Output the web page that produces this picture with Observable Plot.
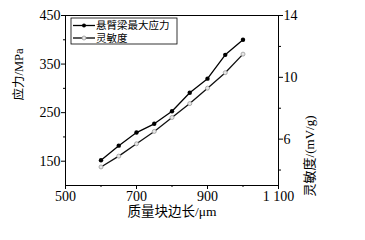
<!DOCTYPE html>
<html>
<head>
<meta charset="utf-8">
<script src="https://cdn.jsdelivr.net/npm/d3@7"></script>
<script src="https://cdn.jsdelivr.net/npm/@observablehq/plot@0.6"></script>
<style>
  html, body { margin: 0; padding: 0; background: #fff; }
  #chart svg, #chart svg text { font-family: "Liberation Serif", "Times New Roman", "Noto Sans CJK SC", serif !important; }
</style>
</head>
<body>
<div id="chart"></div>
<script>
// ---- data ----
const sizes = [600, 650, 700, 750, 800, 850, 900, 950, 1000];          // 质量块边长 / μm
const stress = [152, 182, 209, 227, 253, 291, 320, 369, 400];           // 悬臂梁最大应力 / MPa
const sensitivity = [4.2, 4.9, 5.7, 6.5, 7.4, 8.3, 9.3, 10.3, 11.5];   // 灵敏度 / (mV/g)
const xTicks = [500, 700, 900, 1100];
const xMinor = [600, 800, 1000];
const yLeftTicks = [150, 250, 350, 450];
const yLeftMinor = [200, 300, 400];
const yRightTicks = [6, 10, 14];
const yRightMinor = [4, 8, 12];
const seriesNames = ["悬臂梁最大应力", "灵敏度"];
const xLabel = "质量块边长/μm";
const yLeftLabel = "应力/MPa";
const yRightLabel = "灵敏度/(mV/g)";

const font = "Liberation Serif, Times New Roman, Noto Sans CJK SC, serif";

// map right-axis values into the left-axis domain
const toLeft = d3.scaleLinear([3, 14], [100, 450]);

const stressData = sizes.map((x, i) => ({x, y: stress[i]}));
const sensData = sizes.map((x, i) => ({x, y: toLeft(sensitivity[i])}));

const fmtX = d => d === 1100 ? "1 100" : String(d);

const chart = Plot.plot({
  width: 365,
  height: 240,
  marginLeft: 65,
  marginRight: 87,
  marginTop: 15,
  marginBottom: 55,
  style: {fontSize: "14px", color: "#000", background: "#fff"},
  x: {domain: [500, 1100]},
  y: {domain: [100, 450]},
  marks: [
    Plot.frame({stroke: "#000", strokeWidth: 1}),
    Plot.axisX({ticks: xTicks, tickSize: 4, tickPadding: 2, tickFormat: fmtX, label: null, stroke: "#000", fontSize: 14}),
    Plot.axisX({ticks: xMinor, tickSize: 2, text: null, label: null, stroke: "#000"}),
    Plot.axisY({ticks: yLeftTicks, tickSize: 4, tickPadding: 1, label: null, stroke: "#000", fontSize: 14}),
    Plot.axisY({ticks: yLeftMinor, tickSize: 2, text: null, label: null, stroke: "#000"}),
    Plot.axisY({anchor: "right", ticks: yRightTicks.map(toLeft), tickSize: 4, tickPadding: 1,
      tickFormat: d => String(Math.round(toLeft.invert(d))), label: null, stroke: "#000", fontSize: 14}),
    Plot.axisY({anchor: "right", ticks: yRightMinor.map(toLeft), tickSize: 2, text: null, label: null, stroke: "#000"}),
    Plot.line(sensData, {x: "x", y: "y", stroke: "#111", strokeWidth: 1.3}),
    Plot.dot(sensData, {x: "x", y: "y", r: 2, fill: "#e6e6e6", stroke: "#999", strokeWidth: 0.8}),
    Plot.line(stressData, {x: "x", y: "y", stroke: "#000", strokeWidth: 1.3}),
    Plot.dot(stressData, {x: "x", y: "y", r: 2.2, fill: "#000", stroke: "none"}),
    Plot.text([xLabel], {text: d => d, frameAnchor: "bottom", dy: 30, fontSize: 13.5, fill: "#000"}),
    Plot.text([yLeftLabel], {text: d => d, frameAnchor: "left", dx: -47, dy: 0, rotate: -90, fontSize: 12.5, fill: "#000"}),
    Plot.text([yRightLabel], {text: d => d, frameAnchor: "right", dx: 31, dy: 15, rotate: -90, fontSize: 13, fill: "#000"})
  ]
});

document.getElementById("chart").appendChild(chart);

// ---- legend (annotation inside the plot frame) ----
const svg = d3.select(chart);
const lg = svg.append("g").attr("font-size", 10.5).attr("text-anchor", "start");
lg.append("rect").attr("x", 71).attr("y", 18).attr("width", 106).attr("height", 26)
  .attr("fill", "#fff").attr("stroke", "#000").attr("stroke-width", 0.8);
const rows = [
  {name: seriesNames[0], fill: "#000", stroke: "none", y: 25.5},
  {name: seriesNames[1], fill: "#e6e6e6", stroke: "#999", y: 38}
];
rows.forEach(r => {
  lg.append("line").attr("x1", 73).attr("x2", 95).attr("y1", r.y).attr("y2", r.y)
    .attr("stroke", "#000").attr("stroke-width", 1.3);
  lg.append("circle").attr("cx", 84).attr("cy", r.y).attr("r", 2)
    .attr("fill", r.fill).attr("stroke", r.stroke).attr("stroke-width", 0.8);
  lg.append("text").attr("x", 96).attr("y", r.y).attr("dy", "0.35em")
    .attr("text-anchor", "start").attr("fill", "#000").text(r.name);
});
</script>
</body>
</html>
